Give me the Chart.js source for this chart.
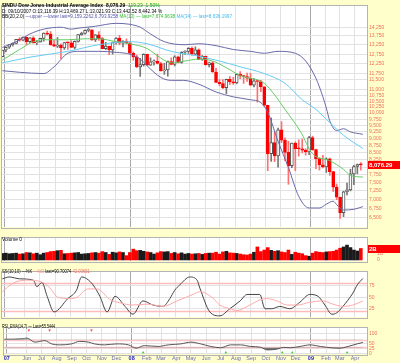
<!DOCTYPE html>
<html>
<head>
<meta charset="utf-8">
<script src="https://cdn.jsdelivr.net/npm/chart.js@4.4.0/dist/chart.umd.min.js"></script>
<style>
html, body { margin: 0; padding: 0; background: #ffffcc; }
body { width: 400px; height: 363px; position: relative; overflow: hidden; font-family: "Liberation Sans", Arial, sans-serif; }
canvas { position: absolute; left: 0; }
.hd { position: absolute; left: 2px; white-space: nowrap; font-size: 6px; line-height: 6px; transform-origin: 0 0; color: #000; z-index: 5; }
</style>
</head>
<body>
<canvas id="price" width="400" height="232" style="top:0"></canvas>
<canvas id="vol" width="400" height="34" style="top:232px"></canvas>
<canvas id="ss" width="400" height="56" style="top:266px"></canvas>
<canvas id="rsi" width="400" height="41" style="top:322px"></canvas>

<div class="hd" data-w="158" style="top:2px"><b>$INDU Dow Jones Industrial Average Index&nbsp; 8,076.29</b>&nbsp; <span style="color:#11aa11">119.23&nbsp; 1.50%</span></div>
<div class="hd" data-w="160" style="top:7.5px">D: 09/10/2007 O:13,116.39 H:13,469.27 L:13,021.93 C:13,442.52 8,442.34 %</div>
<div class="hd" data-w="230" style="top:13px">BB(20,2.0) <span style="color:#5555aa">—upper —lower last=9,159.2262,6,793.9258</span> <span style="color:#33bb33">MA(13) — last=7,674.9638</span> <span style="color:#44bbee">MA(34) — last=8,636.1997</span></div>
<div class="hd" data-w="20" style="top:236px">Volume 0</div>
<div class="hd" data-w="88" style="top:267.5px">SS(10,10) —%K <span style="color:#ff8888">—%D</span> last=90.70074 <span style="color:#ff6666">42.03651</span></div>
<div class="hd" data-w="53" style="top:322.5px">RSI_EMA(14,7) — Last=55.5444</div>

<script>
// weekly bars, bar 0 = week of 2007-04-16
const opens = [12612, 12962, 13121, 13265, 13327, 13557, 13508, 13668, 13424, 13640,
  13361, 13409, 13612, 13907, 13851, 13266, 13182, 13239, 13079, 13379,
  13358, 13116, 13443, 13820, 13896, 14066, 14093, 13522, 13807, 13595,
  13043, 13177, 12981, 13372, 13625, 13340, 13450, 13366, 12800, 12606,
  12099, 12207, 12743, 12182, 12348, 12381, 12266, 11894, 11951, 12361,
  12216, 12610, 12325, 12849, 12891, 13058, 12745, 12986, 12480, 12638,
  12209, 12307, 11843, 11346, 11288, 11100, 11496, 11370, 11326, 11734,
  11659, 11628, 11544, 11220, 11421, 11388, 11143, 10325, 8451, 8852,
  8378, 9325, 8943, 8497, 8046, 8829, 8635, 8629, 8579, 8515,
  9034, 8599, 8281, 8077, 8001, 8280, 7850, 7366, 7063, 6627,
  7224, 7279, 7776, 8018, 8083];
const highs = [12968, 13121, 13280, 13362, 13560, 13650, 13692, 13690, 13660, 13710,
  13480, 13620, 13920, 14022, 14000, 13500, 13660, 13300, 13380, 13400,
  13480, 13469, 13830, 13960, 14090, 14198, 14100, 13830, 14000, 13660,
  13390, 13180, 13400, 13650, 13780, 13490, 13580, 13420, 12870, 12700,
  12530, 12770, 12760, 12560, 12460, 12750, 12330, 12280, 12400, 12560,
  12670, 12650, 12880, 12940, 13100, 13140, 13140, 13030, 12680, 12660,
  12340, 12360, 12020, 11480, 11480, 11500, 11630, 11590, 11760, 11870,
  11680, 11790, 11790, 11530, 11450, 11440, 11150, 10330, 9800, 9270,
  9400, 9650, 9030, 8900, 8830, 8880, 8950, 8980, 8630, 9080,
  9090, 8620, 8310, 8400, 8310, 8300, 7860, 7460, 7070, 7240,
  7490, 7930, 8060, 8100, 8150];
const lows = [12600, 12870, 13050, 13180, 13300, 13440, 13470, 13250, 13370, 13340,
  13250, 13400, 13450, 13800, 13230, 13150, 13100, 12518, 13000, 13000,
  13100, 13022, 13400, 13780, 13850, 13980, 13500, 13430, 13500, 13030,
  12990, 12720, 12750, 13290, 13250, 13140, 13300, 12780, 12430, 12060,
  11630, 12140, 12180, 12170, 12180, 12240, 11890, 11730, 11640, 12200,
  12140, 12300, 12280, 12740, 12790, 12700, 12720, 12470, 12430, 12180,
  12100, 11830, 11330, 11190, 11060, 10830, 11250, 11250, 11280, 11520,
  11300, 11390, 11200, 11140, 10460, 10920, 10270, 7880, 8190, 8180,
  8000, 8850, 8210, 7450, 7980, 7880, 8370, 8480, 8400, 8420,
  8570, 7950, 7900, 7970, 7820, 7730, 7230, 6990, 6470, 6520,
  7130, 7250, 7440, 7780, 7900];
const closes = [12962, 13121, 13265, 13327, 13557, 13508, 13668, 13424, 13640, 13361,
  13409, 13612, 13907, 13851, 13266, 13182, 13239, 13079, 13379, 13358,
  13113, 13443, 13820, 13896, 14066, 14093, 13522, 13807, 13595, 13043,
  13177, 12981, 13372, 13625, 13340, 13450, 13366, 12800, 12606, 12099,
  12207, 12743, 12182, 12348, 12381, 12266, 11894, 11951, 12361, 12216,
  12610, 12325, 12849, 12891, 13058, 12745, 12986, 12480, 12638, 12209,
  12307, 11843, 11346, 11288, 11100, 11496, 11370, 11326, 11734, 11659,
  11628, 11544, 11220, 11421, 11388, 11143, 10325, 8451, 8852, 8378,
  9325, 8943, 8497, 8046, 8829, 8635, 8629, 8579, 8515, 9034,
  8599, 8281, 8077, 8001, 8280, 7850, 7366, 7063, 6627, 7224,
  7279, 7776, 8018, 8083, 8076];
// volume in billions of shares
const volumes = [1.05, 1.1, 1.0, 1.05, 1.1, 0.95, 1.0, 1.2, 1.15, 1.0, 1.1,
  0.85, 1.1, 1.2, 1.35, 1.4, 1.5, 1.55, 1.0, 1.05, 1.1,
  1.15, 1.2, 0.95, 1.0, 1.05, 1.15, 1.2, 1.1, 1.35, 1.2,
  0.9, 1.25, 1.15, 1.3, 1.2, 0.7, 1.2, 1.75, 1.5, 1.55,
  1.4, 1.3, 1.2, 0.95, 1.15, 1.35, 1.3, 1.35, 1.05, 1.2,
  1.0, 1.15, 0.95, 1.05, 0.95, 1.0, 1.05, 0.9, 1.05, 1.1,
  1.1, 1.25, 0.95, 1.3, 1.4, 1.15, 1.1, 1.05, 0.95, 0.85,
  0.8, 0.95, 1.25, 2.1, 1.35, 1.6, 2.0, 1.55, 1.4, 1.5,
  1.3, 1.2, 1.6, 0.9, 1.25, 1.1, 1.0, 0.7, 0.6, 1.1,
  1.35, 1.25, 1.2, 1.3, 1.35, 1.4, 1.6, 1.9, 2.1, 2.4, 2.0, 1.6, 1.45, 1.85];

// overlays: [week, value]
const bbUpper = [[0, 13106], [4, 13424], [8, 13858], [12, 14137], [17, 14250], [20, 14137], [22, 14193],
  [27, 14307], [33, 14479], [37, 14422], [40, 14250], [43, 13858], [47, 13424], [53, 13257], [57, 13310],
  [62, 13205], [67, 12996], [72, 12899], [76, 12797], [80, 12899], [85, 12797], [88, 12395], [91, 11534],
  [93, 10690], [94, 10207], [95, 9680], [97, 9300], [99, 9371], [101, 9250], [104.6, 9159]];
const bbLower = [[0, 11909], [5, 11830], [12, 11768], [15, 12102], [19, 12797], [22.5, 12899], [28, 12899],
  [33, 12848], [37, 12746], [40, 12493], [42, 12150], [46, 11581], [49, 11443], [52.5, 11443], [57, 11261],
  [62, 10907], [67, 10690], [72, 10563], [75, 10438], [77, 10029], [80, 8897], [83, 7986], [86, 7088],
  [89, 6756], [92, 6756], [94, 6863], [96, 6948], [97, 6850], [99, 6700], [102, 6720], [104.6, 6794]];
const ma13 = [[0, 12442], [5, 12996], [9, 13424], [12, 13531], [19, 13531], [24, 13585], [28, 13585],
  [33, 13424], [37, 13310], [42, 13048], [46, 12543], [49, 12297], [53, 12395], [57, 12493], [61, 12395],
  [65, 12054], [69, 11674], [76, 11306], [79, 10776], [82, 10150], [86.5, 9262], [90, 8450], [95, 8214],
  [99, 7923], [101, 7729], [104.6, 7675]];
const ma34 = [[0, 12297], [8, 12594], [19, 12899], [28, 13257], [37, 13424], [42, 13310], [49, 12899],
  [57, 12644], [63, 12395], [69, 12102], [76, 11768], [82, 11306], [87, 10563], [91, 10150], [95, 9613],
  [99, 9120], [104.6, 8636]];

const ssK = [[0, 90], [2, 94], [5, 90], [9, 87], [10, 73], [11.5, 82], [13, 52], [15, 18], [19, 47], [21.5, 65],
  [23, 94], [24.5, 90], [26.3, 77], [28.3, 52], [30.4, 18], [32.7, 52], [35.6, 30], [37.9, 13], [40.8, 42],
  [43.7, 33], [46.6, 30], [48.6, 47], [50, 65], [51.5, 77], [54.4, 94], [56.5, 87], [57.3, 70], [60.2, 18],
  [63.1, 9.5], [66, 25], [69, 42], [71, 56], [72.7, 56], [74.7, 56], [76.2, 25], [78.2, 25], [80.5, 30],
  [83.4, 25], [86.3, 39], [89.2, 56], [91.6, 52], [93.6, 33], [95.6, 13], [97, 16], [98.8, 30], [101.7, 59],
  [103, 77], [104.6, 90.7]];
const ssD = [[0, 62], [3, 80], [7, 87], [11.8, 82], [13.8, 70], [16.1, 50], [19.6, 47], [21.7, 50], [24.8, 68],
  [27.5, 68], [31.2, 45], [34, 38], [37.9, 33], [42, 35], [46.6, 30], [50.7, 42], [55.3, 56], [57.3, 62],
  [61.1, 48], [63.1, 33], [66, 25], [68.1, 21], [71.8, 33], [74.7, 44], [76.8, 47], [79.7, 42], [82.6, 33],
  [85.5, 33], [89.2, 39], [93, 42], [95.9, 35], [98.8, 30], [101.7, 33], [104.6, 42]];
const rsi = [[0, 72], [5.1, 74], [6.6, 78], [8.9, 57], [11.8, 65], [13.8, 48], [16.1, 43], [19.6, 48], [21.9, 61],
  [24.6, 57], [26.3, 48], [29.2, 43], [32.7, 48], [36.2, 43], [38.5, 26], [40.8, 39], [44.9, 35], [47.8, 43],
  [51.5, 48], [54.4, 57], [57.3, 48], [60.2, 35], [63.1, 28], [66, 43], [68.9, 43], [71.8, 35], [74.7, 31],
  [76.8, 17], [79.7, 22], [81.4, 30], [83.4, 28], [86.3, 35], [89.2, 43], [92.2, 35], [95.9, 27], [97.9, 26],
  [100.3, 35], [102.9, 48], [104.6, 55.5]];
const rsiSellWeeks = [7.15, 13.2, 25.4];
const rsiBuyWeeks = [40.5, 64.6, 81.1, 84, 100];

const priceTicks = [14250, 13750, 13250, 12750, 12250, 11750, 11500, 11000, 10750, 10500, 10250, 10000,
  9750, 9500, 9250, 9000, 8750, 8500, 8250, 8000, 7750, 7500, 7250, 7000, 6750, 6500];
const volTicks = [0, 1];
const ssTicks = [25, 50, 75];
const rsiTicks = [0, 25, 50, 100];
const monthTicks = [0.7, 6.57, 10.86, 15.29, 19.71, 24.0, 28.43, 32.71, 37.14, 41.57, 45.71, 50.14,
  54.43, 58.86, 63.14, 67.57, 72.0, 76.29, 80.71, 85.0, 89.43, 93.86, 97.86, 102.29];
const monthLabels = ['07', 'Jun', 'Jul', 'Aug', 'Sep', 'Oct', 'Nov', 'Dec', '08', 'Feb', 'Mar', 'Apr',
  'May', 'Jun', 'Jul', 'Aug', 'Sep', 'Oct', 'Nov', 'Dec', '09', 'Feb', 'Mar', 'Apr'];
const lastPriceText = '8,076.29';
const lastVolumeText = '2B';

const FONT = '"Liberation Sans", Arial, sans-serif';
const weeks = closes.map((c, i) => i);
const upWeek = closes.map((c, i) => i === 0 ? c >= opens[i] : c >= closes[i - 1]);
const pts = arr => arr.map(([x, y]) => ({ x, y }));
const isYear = i => /^\d\d$/.test(monthLabels[i] || '');

// white panel + frame
const panelBg = {
  id: 'panelBg',
  beforeDraw(chart) {
    const { ctx, chartArea: a } = chart;
    ctx.save();
    ctx.fillStyle = '#ffffff';
    ctx.fillRect(a.left, a.top, a.right - a.left, a.bottom - a.top);
    ctx.restore();
  },
  afterDraw(chart) {
    const { ctx, chartArea: a } = chart;
    ctx.save();
    ctx.strokeStyle = '#b4b4b4';
    ctx.lineWidth = 1;
    ctx.strokeRect(a.left - 0.5, a.top + 0.5, a.right - a.left + 1, a.bottom - a.top + 1);
    ctx.restore();
  }
};

const refLines = {
  id: 'refLines',
  beforeDatasetsDraw(chart, args, opts) {
    const { ctx, chartArea: a, scales: { y } } = chart;
    (opts.lines || []).forEach(l => {
      const py = Math.round(y.getPixelForValue(l.value)) + 0.5;
      ctx.save();
      ctx.strokeStyle = l.color;
      ctx.lineWidth = l.width || 1;
      ctx.beginPath();
      ctx.moveTo(a.left, py);
      ctx.lineTo(a.right, py);
      ctx.stroke();
      ctx.restore();
    });
  }
};

const lastBox = {
  id: 'lastBox',
  afterDraw(chart, args, opts) {
    if (!opts.text) return;
    const { ctx, chartArea: a, scales: { y } } = chart;
    const py = Math.round(y.getPixelForValue(opts.value));
    ctx.save();
    ctx.fillStyle = '#ff0000';
    ctx.fillRect(a.right + 1, py - 4, chart.width - a.right - 1, 8);
    ctx.fillStyle = '#ffffff';
    ctx.font = 'bold 6px ' + FONT;
    ctx.textBaseline = 'middle';
    ctx.fillText(opts.text, a.right + 2, py + 0.5);
    ctx.restore();
  }
};

function xAxis(showTicks) {
  return {
    type: 'linear', min: -0.1, max: 105.8, offset: false,
    afterBuildTicks: s => { s.ticks = monthTicks.map(v => ({ value: v })); },
    afterFit: s => { s.height = showTicks ? 9 : 0; },
    border: { display: false },
    grid: { offset: false, drawTicks: false, color: c => isYear(c.index) ? '#a8a8a8' : '#e2e2e2' },
    ticks: {
      display: showTicks, autoSkip: false, maxRotation: 0, padding: 1,
      callback: (v, i) => monthLabels[i],
      color: c => isYear(c.index) ? '#1a1ac8' : '#6a6ab4',
      font: c => ({ size: 5.5, family: FONT, weight: isYear(c.index) ? 'bold' : 'normal' })
    }
  };
}

function yAxis(extra, tickValues, label) {
  return Object.assign({
    position: 'right',
    afterBuildTicks: s => { s.ticks = tickValues.map(v => ({ value: v })); },
    afterFit: s => { s.width = 33; },
    border: { display: false },
    grid: { color: '#e2e2e2', drawTicks: false },
    ticks: { autoSkip: false, padding: 2, font: { size: 5, family: FONT }, color: '#f0705a', callback: label }
  }, extra);
}

const base = (padTop) => ({
  responsive: false, animation: false, devicePixelRatio: 1,
  layout: { padding: { left: 2, top: padTop, right: 0, bottom: 0 } },
  plugins: { legend: { display: false }, tooltip: { enabled: false } }
});

const line = (data, color, extra) => Object.assign({
  type: 'line', data: pts(data), borderColor: color, borderWidth: 1, pointRadius: 0,
  cubicInterpolationMode: 'monotone', fill: false, order: 0
}, extra);

// price panel
new Chart(document.getElementById('price'), {
  type: 'bar',
  data: {
    datasets: [
      {
        data: weeks.map(i => ({ x: i, y: [lows[i], highs[i]] })),
        backgroundColor: weeks.map(i => upWeek[i] ? '#777777' : '#ff7070'),
        barThickness: 1, grouped: false, order: 3
      },
      {
        data: weeks.map(i => ({ x: i, y: [opens[i], closes[i]] })),
        backgroundColor: weeks.map(i => closes[i] >= opens[i] ? '#ffffff' : '#ff0000'),
        borderColor: weeks.map(i => closes[i] >= opens[i] ? '#555555' : '#ff0000'),
        borderWidth: 1, borderSkipped: false, barThickness: 3, minBarLength: 1, grouped: false, order: 2
      },
      line(ma34, '#66ccf4'),
      line(ma13, '#66cc66'),
      line(bbUpper, '#6a6aaa'),
      line(bbLower, '#6a6aaa')
    ]
  },
  options: Object.assign(base(2), {
    scales: {
      x: xAxis(false),
      y: yAxis({ type: 'logarithmic', min: 6246, max: 15619 }, priceTicks, v => v.toLocaleString('en-US'))
    },
    plugins: { legend: { display: false }, tooltip: { enabled: false },
      lastBox: { value: closes[closes.length - 1], text: lastPriceText } }
  }),
  plugins: [panelBg, lastBox]
});

// volume panel
new Chart(document.getElementById('vol'), {
  type: 'bar',
  data: {
    datasets: [{
      data: weeks.map(i => ({ x: i, y: volumes[i] })),
      backgroundColor: weeks.map(i => upWeek[i] ? '#1a1a1a' : '#ff0000'),
      barThickness: 3, grouped: false
    }]
  },
  options: Object.assign(base(0), {
    scales: {
      x: xAxis(false),
      y: Object.assign(yAxis({ type: 'linear', min: -0.17, max: 3.71 }, volTicks, v => v === 0 ? '0' : v + 'B'),
        { grid: { display: false } })
    },
    plugins: { legend: { display: false }, tooltip: { enabled: false },
      lastBox: { value: volumes[volumes.length - 1], text: lastVolumeText } }
  }),
  plugins: [panelBg, lastBox]
});

// slow stochastics panel
new Chart(document.getElementById('ss'), {
  type: 'line',
  data: {
    datasets: [
      line(ssD, '#ffaaaa'),
      line(ssK, '#444444')
    ]
  },
  options: Object.assign(base(0), {
    scales: {
      x: xAxis(false),
      y: yAxis({ type: 'linear', min: 7, max: 107 }, ssTicks, v => String(v))
    },
    plugins: { legend: { display: false }, tooltip: { enabled: false },
      refLines: { lines: [{ value: 80, color: '#ffbcbc', width: 1.5 }, { value: 20, color: '#ffbcbc', width: 1.5 }] } }
  }),
  plugins: [panelBg, refLines]
});

// RSI panel with month axis
new Chart(document.getElementById('rsi'), {
  type: 'line',
  data: {
    datasets: [
      line(rsi, 'rgba(0,0,0,0)', { borderWidth: 0, fill: { target: { value: 70 }, above: '#888888', below: 'rgba(0,0,0,0)' } }),
      line(rsi, '#555555', { fill: { target: { value: 30 }, above: 'rgba(0,0,0,0)', below: '#777777' } }),
      { type: 'scatter', data: rsiSellWeeks.map(x => ({ x, y: 118 })), pointStyle: 'triangle', rotation: 180,
        pointRadius: 1.5, backgroundColor: '#ff3333', borderColor: '#ff3333', borderWidth: 0 },
      { type: 'scatter', data: rsiBuyWeeks.map(x => ({ x, y: 4 })), pointStyle: 'triangle',
        pointRadius: 1.5, backgroundColor: '#33cc33', borderColor: '#33cc33', borderWidth: 0 }
    ]
  },
  options: Object.assign(base(0), {
    scales: {
      x: xAxis(true),
      y: yAxis({ type: 'linear', min: -4, max: 135 }, rsiTicks, v => String(v))
    },
    plugins: { legend: { display: false }, tooltip: { enabled: false },
      refLines: { lines: [{ value: 70, color: '#ffc8c8', width: 1.5 }, { value: 30, color: '#ffc8c8', width: 1.5 }] } }
  }),
  plugins: [panelBg, refLines]
});

// squeeze the tiny header lines to the widths they take in the chart
document.querySelectorAll('.hd').forEach(el => {
  el.style.transform = 'scaleX(' + (+el.dataset.w / el.scrollWidth) + ')';
});
</script>
</body>
</html>
